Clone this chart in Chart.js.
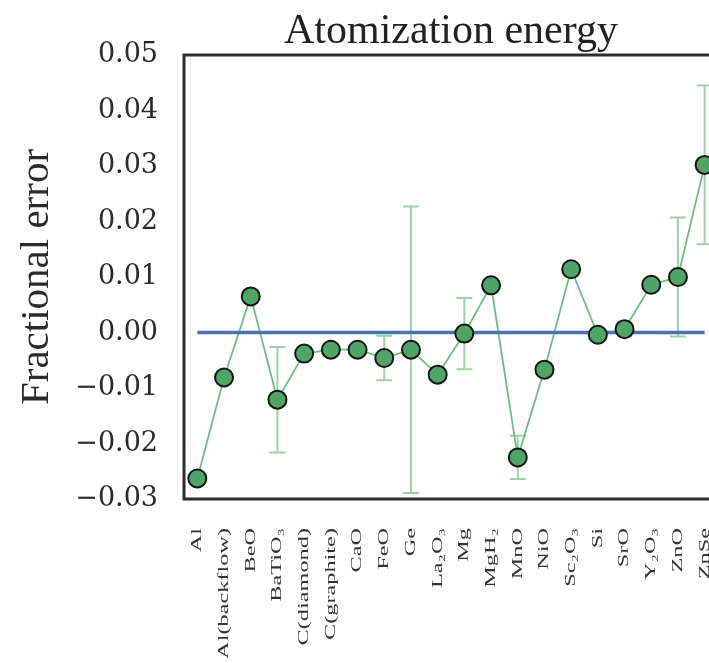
<!DOCTYPE html>
<html>
<head>
<meta charset="utf-8">
<script src="https://cdn.jsdelivr.net/npm/chart.js@4/dist/chart.umd.min.js"></script>
<style>
  html, body { margin: 0; padding: 0; overflow: hidden; background: #ffffff; }
  #wrap { width: 740px; height: 663px; }
</style>
</head>
<body>
<div id="wrap"><canvas id="c" width="740" height="663"></canvas></div>
<script>
const categories = ['Al', 'Al(backflow)', 'BeO', 'BaTiO₃', 'C(diamond)', 'C(graphite)', 'CaO', 'FeO', 'Ge', 'La₂O₃', 'Mg', 'MgH₂', 'MnO', 'NiO', 'Sc₂O₃', 'Si', 'SrO', 'Y₂O₃', 'ZnO', 'ZnSe'];
const fractionalError = [-0.0263, -0.0081, 0.0065, -0.0121, -0.0038, -0.0031, -0.0031, -0.0046, -0.0031, -0.0076, -0.0002, 0.0085, -0.0225, -0.0067, 0.0114, -0.0004, 0.0006, 0.0086, 0.0100, 0.0302];
const errorBars = [null, null, null, 0.0095, null, null, null, 0.0040, 0.0258, null, 0.0064, null, 0.0039, null, null, null, null, null, 0.0107, 0.0143];
const zeroLine = categories.map(() => 0);
const yTicks = [-0.03, -0.02, -0.01, 0.00, 0.01, 0.02, 0.03, 0.04, 0.05];
const titleText = 'Atomization energy';
const yTitle = 'Fractional error';

const SERIF = '"Liberation Serif", "DejaVu Serif", serif';
const TICKSERIF = '"DejaVu Serif", "Liberation Serif", serif';

const errorBarPlugin = {
  id: 'errorBars',
  beforeDatasetsDraw(chart) {
    const ctx = chart.ctx;
    const xs = chart.scales.x, ys = chart.scales.y;
    ctx.save();
    ctx.strokeStyle = 'rgba(96,178,118,0.6)';
    ctx.lineWidth = 2;
    errorBars.forEach((e, i) => {
      if (e == null) return;
      const x = xs.getPixelForValue(i);
      const y1 = ys.getPixelForValue(fractionalError[i] + e);
      const y0 = ys.getPixelForValue(fractionalError[i] - e);
      const cap = 8;
      ctx.beginPath();
      ctx.moveTo(x, y0); ctx.lineTo(x, y1);
      ctx.moveTo(x - cap, y0); ctx.lineTo(x + cap, y0);
      ctx.moveTo(x - cap, y1); ctx.lineTo(x + cap, y1);
      ctx.stroke();
    });
    ctx.restore();
  }
};

const framePlugin = {
  id: 'frameAndTitle',
  afterDatasetsDraw(chart) {
    const ctx = chart.ctx;
    const a = chart.chartArea;
    ctx.save();
    ctx.strokeStyle = '#2e2e2e';
    ctx.lineWidth = 3;
    ctx.strokeRect(a.left, a.top, a.right - a.left, a.bottom - a.top);
    ctx.restore();
  },
  afterDraw(chart) {
    const ctx = chart.ctx;
    const a = chart.chartArea;
    const xs = chart.scales.x;
    ctx.save();
    ctx.fillStyle = '#222';
    ctx.font = '42px ' + SERIF;
    ctx.textAlign = 'center';
    ctx.textBaseline = 'alphabetic';
    ctx.fillText(titleText, (a.left + a.right) / 2, 43);
    ctx.restore();
    // x category labels, rotated, stretched along the text direction
    ctx.save();
    ctx.fillStyle = '#333';
    ctx.font = '15px ' + SERIF;
    ctx.textAlign = 'right';
    ctx.textBaseline = 'middle';
    categories.forEach((lab, i) => {
      const x = xs.getPixelForValue(i);
      ctx.save();
      ctx.translate(x, a.bottom + 29);
      ctx.rotate(-Math.PI / 2);
      ctx.scale(1.62, 1);
      ctx.fillText(lab, 0, 0);
      ctx.restore();
    });
    ctx.restore();
  }
};

new Chart(document.getElementById('c'), {
  type: 'line',
  data: {
    labels: categories,
    datasets: [
      {
        data: fractionalError,
        showLine: false,
        pointRadius: 9,
        pointBorderWidth: 2,
        pointBackgroundColor: '#4fa565',
        pointBorderColor: '#151515',
        clip: false
      },
      {
        data: zeroLine,
        borderColor: '#4c72b0',
        borderWidth: 3.5,
        pointRadius: 0,
        fill: false
      },
      {
        data: fractionalError,
        borderColor: '#6cbf84',
        borderWidth: 1.8,
        pointRadius: 0,
        tension: 0,
        fill: false
      }
    ]
  },
  options: {
    responsive: false,
    animation: false,
    devicePixelRatio: 1,
    layout: { autoPadding: false, padding: { top: 55, right: 22, left: 0, bottom: 0 } },
    plugins: { legend: { display: false }, tooltip: { enabled: false }, title: { display: false } },
    scales: {
      x: {
        type: 'category',
        offset: true,
        grid: { display: false, drawTicks: false },
        border: { display: false },
        ticks: { display: false, autoSkip: false },
        afterFit(scale) { scale.height = 164; }
      },
      y: {
        min: -0.03,
        max: 0.05,
        grid: { display: false, drawTicks: false },
        border: { display: false },
        afterBuildTicks(scale) { scale.ticks = yTicks.map(v => ({ value: v })); },
        ticks: {
          padding: 26,
          color: '#2a2a2a',
          font: { family: TICKSERIF, size: 27 },
          callback: (v) => (v < -1e-9 ? '\u2212' : '') + Math.abs(v).toFixed(2)
        },
        title: {
          display: true,
          text: yTitle,
          color: '#2a2a2a',
          font: { family: SERIF, size: 41 },
          padding: { top: 13, bottom: 0 }
        },
        afterFit(scale) { scale.width = 184; }
      }
    }
  },
  plugins: [errorBarPlugin, framePlugin]
});
</script>
</body>
</html>
